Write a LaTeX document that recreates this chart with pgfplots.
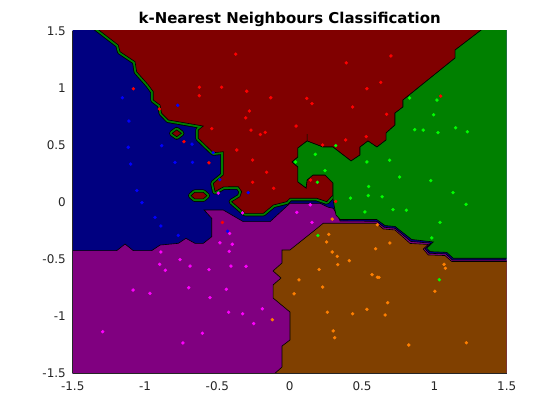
\documentclass[border=0pt]{standalone}
\usepackage{pgfplots}
\pgfplotsset{compat=1.18}
\usepackage{pgfplotstable}
\usepackage{fontspec}
\setmainfont{DejaVu Sans}
\definecolor{cnavy}{RGB}{0,0,128}
\definecolor{cred}{RGB}{128,0,0}
\definecolor{cgreen}{RGB}{0,128,0}
\definecolor{cpurple}{RGB}{128,0,128}
\definecolor{cbrown}{RGB}{128,64,0}
\definecolor{pblue}{RGB}{0,0,255}
\definecolor{pred}{RGB}{255,0,0}
\definecolor{pgreen}{RGB}{0,255,0}
\definecolor{pmag}{RGB}{255,0,255}
\definecolor{porange}{RGB}{255,128,0}
\definecolor{tickgray}{RGB}{38,38,38}

\pgfplotstableread{
x y
-1.6 -1.6
1.6 -1.6
1.6 1.6
-1.6 1.6
}\bluereg
\pgfplotstableread{
x y
-1.413 1.6
1.418 1.6
1.143 1.333
1.143 1.263
0.783 0.895
0.783 0.834
0.728 0.781
0.728 0.676
0.666 0.606
0.666 0.545
0.603 0.483
0.541 0.536
0.486 0.483
0.486 0.413
0.424 0.361
0.299 0.483
0.230 0.483
0.120 0.536
0.057 0.475
0.057 0.396
0.016 0.352
0.057 0.308
0.057 0.177
0.113 0.124
0.120 0.194
0.161 0.238
0.244 0.238
0.299 0.168
0.299 0.063
0.256 0.004
0.187 0.034
0.002 0.034
-0.021 0.004
-0.113 -0.025
-0.182 -0.098
-0.309 -0.098
-0.401 0.004
-0.344 0.048
-0.332 0.092
-0.355 0.135
-0.413 0.135
-0.459 0.133
-0.516 0.092
-0.528 0.165
-0.459 0.238
-0.459 0.442
-0.528 0.433
-0.632 0.560
-0.632 0.632
-0.597 0.667
-0.839 0.720
-0.885 0.779
-0.896 0.851
-0.943 0.895
-0.943 0.968
-0.977 1.027
-1.058 1.143
-1.069 1.231
-1.173 1.319
-1.185 1.377
}\redreg
\pgfplotstableread{
x y
-0.813 0.603
-0.781 0.633
-0.749 0.603
-0.781 0.573
}\redislA
\pgfplotstableread{
x y
-0.682 0.057
-0.657 0.085
-0.597 0.085
-0.572 0.057
-0.597 0.029
-0.657 0.029
}\redislB
\pgfplotstableread{
x y
1.418 1.6
1.6 1.6
1.6 -0.492
1.131 -0.492
1.085 -0.440
0.970 -0.434
0.947 -0.404
0.993 -0.349
0.843 -0.327
0.728 -0.213
0.659 -0.205
0.601 -0.152
0.348 -0.152
0.320 -0.113
0.301 0.010
0.299 0.063
0.299 0.168
0.244 0.238
0.161 0.238
0.120 0.194
0.113 0.124
0.057 0.177
0.057 0.308
0.016 0.352
0.057 0.396
0.057 0.475
0.120 0.536
0.120 0.597
0.120 0.536
0.230 0.483
0.299 0.483
0.424 0.361
0.486 0.413
0.486 0.483
0.541 0.536
0.603 0.483
0.666 0.545
0.666 0.606
0.728 0.676
0.728 0.781
0.783 0.834
0.783 0.895
1.143 1.263
1.143 1.333
}\greenreg
\pgfplotstableread{
x y
-1.6 -0.425
-1.196 -0.425
-1.138 -0.367
-1.081 -0.425
-0.954 -0.425
-0.896 -0.376
-0.770 -0.361
-0.717 -0.317
-0.655 -0.361
-0.597 -0.361
-0.539 -0.303
-0.539 -0.142
-0.592 -0.069
-0.459 -0.069
-0.321 -0.171
-0.136 -0.171
0.002 -0.010
0.209 -0.010
0.267 -0.045
0.301 -0.054
0.336 -0.128
0.348 -0.165
0.601 -0.168
0.652 -0.220
0.728 -0.229
0.837 -0.344
0.977 -0.360
0.935 -0.407
0.963 -0.448
1.080 -0.454
1.125 -0.507
1.6 -0.507
1.6 -1.6
-1.6 -1.6
}\purplereg
\pgfplotstableread{
x y
1.6 -0.520
1.120 -0.520
1.073 -0.468
0.958 -0.463
0.923 -0.411
0.958 -0.371
0.832 -0.362
0.728 -0.244
0.647 -0.235
0.601 -0.185
0.232 -0.185
0.175 -0.244
0.002 -0.419
-0.053 -0.419
-0.053 -0.533
-0.115 -0.603
-0.060 -0.665
-0.115 -0.726
-0.115 -0.840
0.002 -0.963
0.002 -1.208
-0.053 -1.261
-0.053 -1.445
-0.102 -1.5
-0.152 -1.6
1.6 -1.6
}\orangereg

\pgfplotstableread{
x y
-0.373 1.298
-1.081 0.994
-0.625 1.007
-0.470 1.007
-0.297 0.972
-0.131 0.915
-0.625 0.933
-0.279 0.799
-0.304 0.738
-0.901 0.816
-0.539 0.644
-0.268 0.631
-0.169 0.612
-0.203 0.593
-0.731 0.530
-0.366 0.457
-0.256 0.369
-0.558 0.345
-0.159 0.262
-0.256 0.174
-0.111 0.121
0.700 1.281
0.391 1.220
0.629 1.050
0.534 0.994
0.118 0.910
0.154 0.863
0.435 0.834
1.044 0.930
0.670 0.770
0.044 0.667
0.529 0.574
0.387 0.545
0.228 0.501
0.144 0.194
0.318 0.006
-0.465 -0.178
}\redpts
\pgfplotstableread{
x y
-1.157 0.915
-0.774 0.849
-1.111 0.711
-0.885 0.495
-0.675 0.508
-1.116 0.481
-0.529 0.433
-0.793 0.349
-0.672 0.349
-1.099 0.334
-0.483 0.197
-1.056 0.102
-0.287 0.083
-1.021 -0.005
-0.931 -0.133
-0.890 -0.209
-0.770 -0.291
-0.429 -0.255
}\bluepts
\pgfplotstableread{
x y
0.829 0.913
1.018 0.895
0.995 0.766
0.864 0.635
0.923 0.632
1.025 0.609
1.147 0.652
1.228 0.617
0.318 0.495
0.177 0.419
0.040 0.352
0.534 0.352
0.691 0.367
0.244 0.276
0.760 0.220
0.975 0.188
0.191 0.174
0.545 0.137
0.543 0.058
0.639 0.047
0.420 0.035
1.129 0.083
1.219 -0.019
0.520 -0.086
0.714 -0.066
0.806 -0.071
1.039 -0.177
0.982 -0.314
0.195 -0.292
1.034 -0.680
}\greenpts
\pgfplotstableread{
x y
-0.494 0.079
-0.326 -0.094
-0.415 -0.275
-0.482 -0.356
-0.397 -0.369
-0.418 -0.431
-0.890 -0.437
-0.758 -0.504
-0.899 -0.545
-0.689 -0.560
-0.860 -0.597
-0.558 -0.592
-0.406 -0.560
-0.302 -0.562
-1.083 -0.770
-0.966 -0.799
-0.698 -0.750
-0.438 -0.764
-0.551 -0.837
-0.189 -0.935
-0.422 -0.965
-0.325 -0.978
-0.249 -1.064
-1.293 -1.135
-0.604 -1.149
-0.738 -1.234
0.142 -0.023
0.049 -0.089
0.154 -0.177
}\magpts
\pgfplotstableread{
x y
0.294 -0.148
0.606 -0.198
0.270 -0.282
0.255 -0.349
0.693 -0.358
0.594 -0.408
0.294 -0.437
0.329 -0.475
0.412 -0.513
0.332 -0.548
1.067 -0.545
1.076 -0.580
0.203 -0.590
0.569 -0.636
0.606 -0.659
0.617 -0.659
0.064 -0.681
0.228 -0.744
1.004 -0.781
0.030 -0.803
0.677 -0.881
0.534 -0.939
0.261 -0.965
0.435 -0.978
0.659 -0.989
0.301 -1.129
0.311 -1.188
0.823 -1.252
1.221 -1.232
-0.120 -1.030
}\orangepts

\begin{document}
\begin{tikzpicture}
\path[use as bounding box, fill=white] (0,0) rectangle (560bp,420bp);
\begin{axis}[
  at={(72.7bp,46.7bp)}, anchor=south west,
  scale only axis, width=434bp, height=342.3bp,
  xmin=-1.5, xmax=1.5, ymin=-1.5, ymax=1.5,
  axis x line*=bottom, axis y line*=left,
  axis line style={-, tickgray, line width=0.6bp},
  axis on top,
  xtick={-1.5,-1,-0.5,0,0.5,1,1.5},
  ytick={-1.5,-1,-0.5,0,0.5,1,1.5},
  xticklabels={-1.5,-1,-0.5,0,0.5,1,1.5},
  yticklabels={-1.5,-1,-0.5,0,0.5,1,1.5},
  major tick length=0pt,
  tick label style={font=\fontsize{12}{14}\selectfont, text=tickgray},
  xticklabel style={yshift=-4.5bp},
  yticklabel style={xshift=-3.4bp},
  every axis title shift=0pt,
  title={k-Nearest Neighbours Classification},
  title style={font=\bfseries\fontsize{15}{18}\selectfont, at={(0.5,1)}, anchor=base, yshift=7bp},
]
\addplot[fill=cnavy, draw=none] table {\bluereg} -- cycle;
\addplot[fill=cpurple, draw=black, line width=0.6bp] table {\purplereg} -- cycle;
\addplot[fill=cbrown, draw=black, line width=0.6bp] table {\orangereg} -- cycle;
% red regions with green contour band
\addplot[draw=black, line width=6bp, line join=round] table {\redreg} -- cycle;
\addplot[draw=cgreen, line width=4.4bp, line join=round] table {\redreg} -- cycle;
\addplot[fill=cred, draw=black, line width=0.6bp] table {\redreg} -- cycle;
\addplot[draw=black, line width=6bp, line join=round] table {\redislA} -- cycle;
\addplot[draw=cgreen, line width=4.4bp, line join=round] table {\redislA} -- cycle;
\addplot[fill=cred, draw=black, line width=0.6bp] table {\redislA} -- cycle;
\addplot[draw=black, line width=6bp, line join=round] table {\redislB} -- cycle;
\addplot[draw=cgreen, line width=4.4bp, line join=round] table {\redislB} -- cycle;
\addplot[fill=cred, draw=black, line width=0.6bp] table {\redislB} -- cycle;
\addplot[fill=cgreen, draw=black, line width=0.6bp] table {\greenreg} -- cycle;
% training points
\addplot[only marks, mark=*, mark size=1.5bp, color=pred] table {\redpts};
\addplot[only marks, mark=*, mark size=1.5bp, color=pblue] table {\bluepts};
\addplot[only marks, mark=*, mark size=1.5bp, color=pgreen] table {\greenpts};
\addplot[only marks, mark=*, mark size=1.5bp, color=pmag] table {\magpts};
\addplot[only marks, mark=*, mark size=1.5bp, color=porange] table {\orangepts};
\end{axis}
\end{tikzpicture}
\end{document}
